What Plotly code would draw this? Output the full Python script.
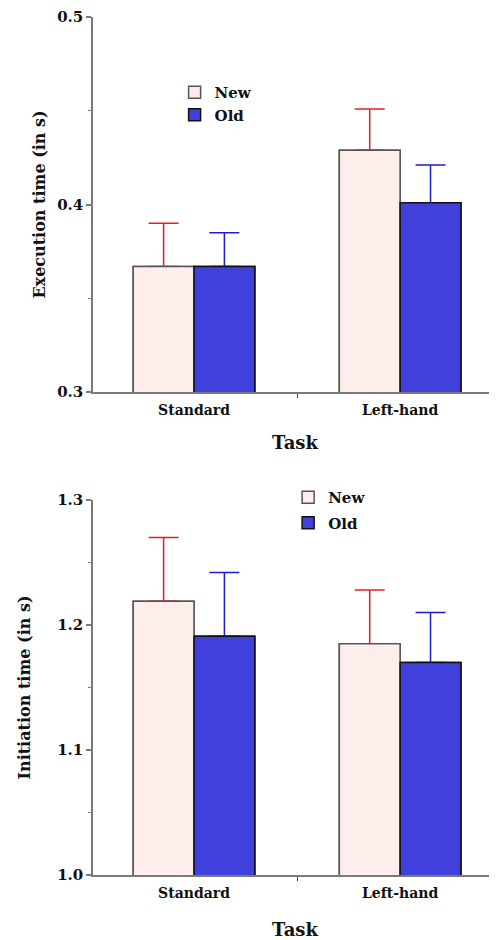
import plotly.graph_objects as go

categories = ["Standard", "Left-hand"]
cat_pos = [0, 1]
series_names = ["New", "Old"]

exec_new = [0.367, 0.429]
exec_new_err = [0.023, 0.022]
exec_old = [0.367, 0.401]
exec_old_err = [0.018, 0.020]

init_new = [1.219, 1.185]
init_new_err = [0.051, 0.043]
init_old = [1.191, 1.170]
init_old_err = [0.051, 0.040]

y_ticks_top = [0.3, 0.4, 0.5]
y_ticks_bot = [1.0, 1.1, 1.2, 1.3]

FONT = "DejaVu Serif"
fill = {"New": "#fdeeeb", "Old": "#4040dc"}
edge = {"New": "#555555", "Old": "#111111"}
errc = {"New": "#e81c1c", "Old": "#1c1cd0"}

fig = go.Figure()

def add_panel(newv, newe, oldv, olde, xa, ya, legend):
    data = {"New": (newv, newe), "Old": (oldv, olde)}
    for name in series_names:
        vals, errs = data[name]
        fig.add_trace(go.Bar(
            x=cat_pos, y=vals, name=name, xaxis=xa, yaxis=ya,
            offsetgroup=name, legend=legend, legendgroup=name + legend,
            marker=dict(color=fill[name], line=dict(color=edge[name], width=1.5)),
            error_y=dict(type="data", array=errs, arrayminus=[0] * len(errs),
                         symmetric=False, color=errc[name], thickness=1.5, width=15),
            showlegend=True, hoverinfo="skip"))
    # overlay to hide the lower caps of the error bars
    for name in series_names:
        vals, _ = data[name]
        fig.add_trace(go.Bar(
            x=cat_pos, y=vals, name=name, xaxis=xa, yaxis=ya,
            offsetgroup=name, legend=legend,
            marker=dict(color=fill[name], line=dict(color=edge[name], width=1.5)),
            showlegend=False, hoverinfo="skip"))

add_panel(exec_new, exec_new_err, exec_old, exec_old_err, "x", "y", "legend")
add_panel(init_new, init_new_err, init_old, init_old_err, "x2", "y2", "legend2")

# the page body adds an 8px offset; figure is sized so it ends at the window edge
W, H = 489, 932
axcol = "#7a7a7a"

def xaxis_cfg(standoff, anchor):
    return dict(range=[-0.49, 1.47], tickvals=cat_pos, ticktext=categories,
                showline=True, linecolor=axcol, linewidth=1.5, ticks="",
                showgrid=False, zeroline=False, automargin=False,
                ticklabelstandoff=4, domain=[0, 1], anchor=anchor,
                tickfont=dict(family=FONT, size=14, color="#111", weight="bold"),
                minor=dict(tickvals=[0.5], ticks="outside", ticklen=4,
                           tickcolor="#444", tickwidth=1),
                title=dict(text="Task", font=dict(family=FONT, size=18, color="#111", weight="bold"),
                           standoff=standoff))

ycommon = dict(showline=True, linecolor=axcol, linewidth=1.5, ticks="outside",
               ticklen=5, tickcolor=axcol, tickwidth=1.5, showgrid=False, zeroline=False,
               tickformat=".1f", automargin=False,
               tickfont=dict(family=FONT, size=15, color="#111", weight="bold"),
               minor=dict(dtick=0.05, ticks="outside", ticklen=3, tickcolor=axcol, tickwidth=1))

fig.update_layout(
    width=W, height=H,
    margin=dict(l=85, r=0, t=0, b=0, autoexpand=False),
    paper_bgcolor="white", plot_bgcolor="white",
    barmode="group", bargap=0.41, bargroupgap=0,
    xaxis=xaxis_cfg(20, "y"),
    xaxis2=xaxis_cfg(25, "y2"),
    yaxis=dict(**ycommon, domain=[1 - 384 / H, 1 - 9 / H], range=[0.3, 0.5],
               tickvals=y_ticks_top, anchor="x",
               title=dict(text="Execution time (in s)", standoff=8,
                          font=dict(family=FONT, size=16, color="#111", weight="bold"))),
    yaxis2=dict(**ycommon, domain=[1 - 867 / H, 1 - 492 / H], range=[1.0, 1.3],
                tickvals=y_ticks_bot, anchor="x2",
                title=dict(text="Initiation time (in s)", standoff=23,
                           font=dict(family=FONT, size=16, color="#111", weight="bold"))),
    legend=dict(x=0.202, y=1 - 68 / H, xanchor="left", yanchor="top",
                font=dict(family=FONT, size=15, color="#111", weight="bold"),
                bgcolor="rgba(0,0,0,0)", tracegroupgap=0),
    legend2=dict(x=0.483, y=1 - 473 / H, xanchor="left", yanchor="top",
                 font=dict(family=FONT, size=15, color="#111", weight="bold"),
                 bgcolor="rgba(0,0,0,0)", tracegroupgap=3),
    showlegend=True,
)

fig.write_html("out.html")
